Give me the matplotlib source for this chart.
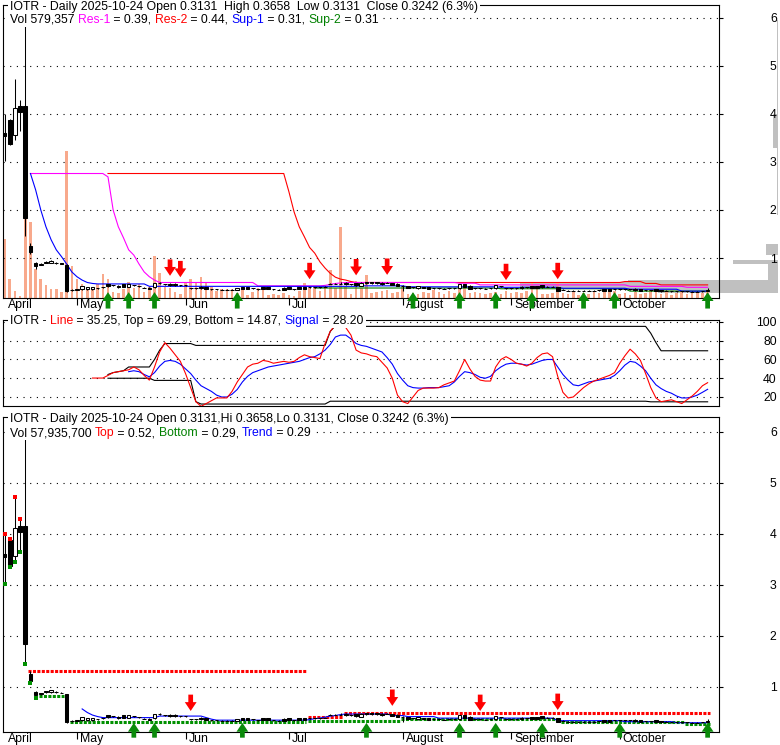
import numpy as np
import pandas as pd
import matplotlib
matplotlib.use('Agg')
import matplotlib.pyplot as plt
from matplotlib.font_manager import FontProperties
from matplotlib.transforms import ScaledTranslation
from matplotlib.patches import Rectangle

plt.rcParams['font.family'] = ['Liberation Sans', 'DejaVu Sans']
FS = 8.8
nan = np.nan

# trading days shown on the chart
holidays = ['2025-04-18', '2025-05-26', '2025-06-19', '2025-07-04', '2025-09-01']
dates = pd.bdate_range('2025-04-10', '2025-10-24')
dates = dates[~dates.isin(pd.to_datetime(holidays))]
x = np.arange(len(dates))
month_names = ['April', 'May', 'Jun', 'Jul', 'August', 'September', 'October']

opens = np.array([
    3.60, 3.88, 3.57, 4.16, 4.16, 1.25, 0.90, 0.86, 0.90, 0.90,
    0.90, 0.89, 0.86, 0.34, 0.34, 0.35, 0.35, 0.35, 0.37, 0.39,
    0.45, 0.43, 0.42, 0.45, 0.40, 0.43, 0.41, 0.38, 0.38, 0.39,
    0.47, 0.45, 0.46, 0.46, 0.43, 0.43, 0.37, 0.37, 0.40, 0.39,
    0.35, 0.35, 0.34, 0.34, 0.34, 0.34, 0.39, 0.39, 0.37, 0.35,
    0.39, 0.39, 0.35, 0.34, 0.38, 0.39, 0.35, 0.39, 0.39, 0.39,
    0.39, 0.39, 0.40, 0.46, 0.46, 0.46, 0.48, 0.45, 0.47, 0.42,
    0.49, 0.49, 0.49, 0.48, 0.48, 0.47, 0.46, 0.41, 0.41, 0.39,
    0.37, 0.39, 0.39, 0.37, 0.37, 0.36, 0.37, 0.37, 0.37, 0.45,
    0.42, 0.37, 0.37, 0.36, 0.37, 0.37, 0.41, 0.37, 0.37, 0.37,
    0.40, 0.39, 0.41, 0.41, 0.43, 0.40, 0.40, 0.39, 0.34, 0.32,
    0.32, 0.32, 0.32, 0.32, 0.32, 0.33, 0.35, 0.35, 0.35, 0.35,
    0.35, 0.35, 0.36, 0.35, 0.33, 0.33, 0.35, 0.33, 0.32, 0.31,
    0.31, 0.31, 0.31, 0.30, 0.30, 0.305, 0.3131])
highs = np.array([
    4.00, 3.90, 4.73, 4.29, 5.85, 1.31, 0.92, 0.89, 0.93, 0.95,
    0.92, 0.90, 0.87, 0.35, 0.36, 0.42, 0.40, 0.40, 0.38, 0.40,
    0.46, 0.44, 0.43, 0.46, 0.46, 0.44, 0.42, 0.39, 0.39, 0.48,
    0.49, 0.46, 0.47, 0.47, 0.44, 0.44, 0.38, 0.38, 0.41, 0.40,
    0.36, 0.36, 0.35, 0.35, 0.35, 0.38, 0.40, 0.40, 0.38, 0.36,
    0.40, 0.40, 0.36, 0.35, 0.39, 0.40, 0.36, 0.40, 0.40, 0.40,
    0.40, 0.40, 0.41, 0.47, 0.47, 0.50, 0.49, 0.46, 0.48, 0.49,
    0.50, 0.50, 0.50, 0.49, 0.49, 0.48, 0.47, 0.43, 0.42, 0.40,
    0.42, 0.40, 0.40, 0.38, 0.38, 0.37, 0.38, 0.38, 0.46, 0.46,
    0.43, 0.38, 0.38, 0.37, 0.38, 0.44, 0.42, 0.38, 0.38, 0.38,
    0.41, 0.40, 0.42, 0.42, 0.44, 0.41, 0.41, 0.40, 0.35, 0.33,
    0.33, 0.33, 0.33, 0.33, 0.33, 0.34, 0.36, 0.36, 0.36, 0.36,
    0.36, 0.36, 0.37, 0.36, 0.34, 0.34, 0.36, 0.34, 0.33, 0.32,
    0.32, 0.32, 0.32, 0.31, 0.31, 0.31, 0.3658])
lows = np.array([
    3.02, 3.35, 3.45, 3.65, 1.45, 1.08, 0.78, 0.85, 0.89, 0.89,
    0.88, 0.88, 0.30, 0.31, 0.33, 0.34, 0.34, 0.34, 0.36, 0.38,
    0.40, 0.42, 0.38, 0.39, 0.39, 0.42, 0.40, 0.37, 0.35, 0.38,
    0.46, 0.44, 0.42, 0.42, 0.42, 0.42, 0.36, 0.36, 0.36, 0.35,
    0.34, 0.34, 0.33, 0.33, 0.33, 0.33, 0.35, 0.35, 0.36, 0.34,
    0.35, 0.35, 0.34, 0.33, 0.34, 0.35, 0.34, 0.35, 0.35, 0.38,
    0.38, 0.38, 0.39, 0.45, 0.45, 0.45, 0.44, 0.44, 0.41, 0.41,
    0.46, 0.46, 0.46, 0.44, 0.47, 0.43, 0.42, 0.31, 0.37, 0.38,
    0.36, 0.37, 0.35, 0.36, 0.36, 0.35, 0.36, 0.36, 0.36, 0.39,
    0.35, 0.36, 0.36, 0.35, 0.36, 0.36, 0.40, 0.36, 0.36, 0.36,
    0.36, 0.38, 0.37, 0.37, 0.38, 0.39, 0.39, 0.31, 0.33, 0.31,
    0.31, 0.31, 0.31, 0.31, 0.31, 0.32, 0.31, 0.31, 0.34, 0.34,
    0.34, 0.34, 0.32, 0.31, 0.32, 0.32, 0.31, 0.30, 0.31, 0.30,
    0.30, 0.30, 0.30, 0.29, 0.29, 0.30, 0.3131])
closes = np.array([
    3.55, 3.37, 4.12, 4.04, 1.84, 1.12, 0.84, 0.88, 0.92, 0.94,
    0.90, 0.88, 0.31, 0.33, 0.35, 0.41, 0.39, 0.39, 0.37, 0.39,
    0.41, 0.43, 0.39, 0.40, 0.45, 0.43, 0.41, 0.38, 0.36, 0.47,
    0.47, 0.45, 0.43, 0.43, 0.43, 0.43, 0.37, 0.37, 0.37, 0.35,
    0.35, 0.35, 0.34, 0.34, 0.34, 0.37, 0.35, 0.35, 0.37, 0.35,
    0.35, 0.35, 0.35, 0.34, 0.34, 0.35, 0.35, 0.35, 0.35, 0.39,
    0.39, 0.39, 0.40, 0.46, 0.46, 0.46, 0.45, 0.45, 0.43, 0.48,
    0.47, 0.47, 0.47, 0.45, 0.48, 0.44, 0.42, 0.41, 0.37, 0.39,
    0.41, 0.37, 0.36, 0.37, 0.37, 0.36, 0.37, 0.37, 0.45, 0.40,
    0.36, 0.37, 0.37, 0.36, 0.37, 0.43, 0.41, 0.37, 0.37, 0.37,
    0.37, 0.39, 0.38, 0.38, 0.39, 0.40, 0.40, 0.32, 0.34, 0.32,
    0.32, 0.32, 0.32, 0.32, 0.32, 0.33, 0.32, 0.32, 0.35, 0.35,
    0.35, 0.35, 0.33, 0.32, 0.33, 0.33, 0.32, 0.31, 0.32, 0.31,
    0.31, 0.31, 0.31, 0.30, 0.30, 0.305, 0.3242])
# daily volume, thousands of shares
volume = np.array([
    4900, 1580, 580, 170, 8300, 6300, 2400, 1580, 1080, 750,
    750, 500, 12200, 2650, 1580, 1160, 750, 910, 1160, 2000,
    1580, 500, 410, 750, 1330, 830, 1160, 500, 910, 3490,
    2080, 910, 830, 500, 330, 1250, 1580, 1250, 1740, 1330,
    910, 580, 750, 750, 750, 410, 750, 250, 500, 830,
    750, 250, 330, 250, 410, 250, 170, 580, 1250, 830,
    910, 580, 830, 2320, 830, 5900, 910, 330, 1410, 830,
    1910, 410, 500, 580, 660, 410, 500, 910, 330, 410,
    330, 500, 410, 660, 500, 330, 580, 410, 1160, 830,
    410, 500, 410, 330, 410, 500, 330, 580, 410, 500,
    410, 580, 1250, 830, 330, 330, 410, 1330, 410, 330,
    500, 250, 410, 330, 500, 410, 580, 660, 580, 330,
    410, 250, 500, 330, 410, 660, 660, 330, 500, 250,
    410, 580, 330, 500, 410, 410, 579])

# resistance / support lines of the upper panel
res1 = np.array([nan] * 5 + [2.76] * 15 +
                [2.69, 2.00, 1.65, 1.42, 1.17, 1.06, 0.875, 0.71, 0.61, 0.54, 0.49] +
                [0.49] * 18 + [0.42] * 13 + [0.43, 0.45, 0.47, 0.48, 0.49, 0.49, 0.49] +
                [0.49] * 19 + [0.475] * 4 + [0.44] * 29 + [0.41] * 11 + [0.39] * 5)
res2 = np.array([nan] * 20 + [2.76] * 35 +
                [2.38, 1.96, 1.65, 1.44, 1.22, 1.10, 0.92, 0.79, 0.68, 0.60, 0.56, 0.54, 0.51] +
                [0.49] * 52 + [0.51] * 4 + [0.47] * 3 + [0.44] * 10)
sup1 = np.array([nan] * 5 +
                [2.76, 2.42, 2.00, 1.65, 1.38, 1.17, 1.03, 0.875, 0.71, 0.61, 0.54, 0.49, 0.47] +
                [0.46] * 10 + [0.41] * 41 + [0.42] * 9 + [0.40] * 18 + [0.39] * 12 +
                [0.37] * 13 + [0.35] * 10 + [0.31] * 6)
sup2 = np.array([nan] * 60 + [0.375] * 36 + [0.36] * 25 + [0.31] * 16)

# volume at price (grey histogram on the right)
vbp_lo = [4.00, 3.30, 1.90, 1.06, 0.88, 0.55, 0.50, 0.44, 0.38, 0.33, 0.27]
vbp_hi = [5.95, 4.00, 3.30, 1.30, 0.95, 0.88, 0.55, 0.50, 0.44, 0.38, 0.33]
vbp_vol = [1.5, 5, 1.5, 12, 45, 10, 150, 258, 258, 178, 120]

# stochastic panel
stoch_line = np.array([nan] * 17 + [
    40.2, 40.2, 40.2, 43, 46, 47, 48, 49, 52, 49,
    43, 38, 52, 68, 78, 72, 65, 58, 45, 30,
    15, 10, 13, 16, 19, 19, 19, 26, 36, 44,
    52, 55, 56, 59, 58, 56, 57, 58, 57, 58,
    62, 65, 63, 62, 61, 77, 90, 97, 97, 94,
    86, 70, 67, 66, 64, 63, 57, 51, 40, 22,
    15, 13, 20, 27, 29.5, 29.5, 29.5, 30, 33, 35,
    37, 48, 60, 50, 42, 38, 37, 37, 52, 60,
    63, 60, 56, 55, 53, 56, 62, 66, 67, 63,
    42, 25, 19, 20, 25, 30, 34, 37, 39, 41,
    43, 46, 56, 64, 71, 66, 59, 45, 30, 19,
    15, 16, 17, 15, 13, 17, 21, 26, 32, 35.25])
stoch_signal = np.array([nan] * 24 + [
    47, 48, 47, 44, 41.5, 46, 53, 58, 59, 58,
    55, 50, 45, 38, 32, 29, 26, 22, 20, 20,
    23, 28, 36, 42, 46, 48, 50, 52, 53, 54,
    55, 56, 57, 58, 60, 62, 63, 66, 70, 76,
    84, 86, 86, 82, 77, 75, 74, 72, 70, 68,
    62, 55, 45, 38, 32, 30, 29.5, 29.5, 30, 30,
    30, 31, 32, 36, 42, 47, 46, 44, 41, 40,
    42, 48, 52, 55, 56, 56, 55, 54, 55, 57,
    59, 60, 60, 52, 44, 38, 33, 32, 34, 36,
    37, 38, 39, 40, 43, 48, 54, 58, 57, 53,
    48, 40, 33, 29, 26, 24, 21, 19, 19, 20,
    22, 25, 28.2])
stoch_top = np.array([nan] * 20 + [44, 46, 47, 48] + [52] * 5 + [60, 70] + [77] * 6 +
                     [75] * 26 + [90, 96] + [95.3] * 60 + [88, 78] + [69.29] * 10)
stoch_bottom = np.array([nan] * 20 + [40] * 9 + [37.7] * 8 + [15] + [12.5] * 25 +
                        [15.5] * 62 + [14.87] * 12)

# lower panel: top / bottom levels and trend
top_lvl = np.array([4.00, 3.90, 4.73, 4.29, nan] + [1.31] * 54 + [0.42] * 7 + [0.49] * 71)
bot_lvl = np.array([3.02, 3.35, 3.45, 3.65, 1.45, 1.08, 0.78] + [0.82] * 5 + [nan] +
                   [0.31] * 46 + [0.33] * 18 + [0.37] * 31 + [0.31] * 24 + [0.27] * 5)
trend = np.array([nan] * 15 + [0.57, 0.50, 0.45, 0.42] + [0.40] * 11 + [0.43] * 9 +
                 [0.40, 0.37, 0.35] + [0.35] * 17 + [0.36, 0.38, 0.39, 0.41, 0.43, 0.44, 0.46] +
                 [0.47] * 9 + [0.44] * 3 + [0.42] * 6 + [0.39] * 23 + [0.34] * 13 +
                 [0.32] * 10 + [0.30] * 7)

sell1 = [32, 34, 59, 68, 74, 97, 107]
buy1 = [20, 24, 29, 45, 79, 88, 95, 102, 112, 118, 136]
sell3 = [36, 75, 92, 107]
buy3 = [25, 29, 46, 70, 88, 95, 104, 119, 136]

month_pos = [int(np.argmax(dates.month == m)) for m in range(4, 11)]

W, H = 780, 745
fig = plt.figure(figsize=(W / 100, H / 100), dpi=100)
fig.patch.set_facecolor('white')
prop = FontProperties(family='Liberation Sans', size=FS)
XLIM = (-0.31, 138.2)
RED, BLUE, MAG, GRN, DGRN = '#ff0000', '#0000ff', '#ff00ff', '#008000', '#0a8a0a'


def rect(l, t, r, b):
    return [l / W, 1 - b / H, (r - l) / W, (b - t) / H]


def frame(ax, yticks, ylim):
    ax.set_xlim(XLIM)
    ax.set_ylim(ylim)
    ax.set_facecolor('none')
    for s in ax.spines.values():
        s.set_linewidth(0.8)
    ax.set_yticks(yticks)
    ax.set_yticklabels([str(t) for t in yticks], fontproperties=prop)
    ax.yaxis.tick_right()
    ax.tick_params(axis='y', direction='out', length=3, width=0.8, pad=38.5)
    for t in ax.get_yticklabels():
        t.set_ha('right')
    ax.grid(True, axis='y', color='black', lw=0.8, ls=(0, (1, 5)))


def months(ax):
    ax.set_xticks(month_pos[1:])
    ax.tick_params(axis='x', direction='out', length=5, width=0.8, labelbottom=False)
    tr = ax.get_xaxis_transform() + ScaledTranslation(3 / 100, -1 / 100, fig.dpi_scale_trans)
    for p, name in zip(month_pos, month_names):
        ax.text(p, 0, name, transform=tr, ha='left', va='top', fontproperties=prop)


def candles(ax):
    up = closes >= opens
    ax.vlines(x, lows, highs, color='black', lw=0.75, zorder=4)
    ax.bar(x, closes - opens, bottom=opens, width=0.7, color=np.where(up, 'white', 'black'),
           edgecolor='black', lw=0.75, zorder=5)


ARW = 'simple,head_length=0.75,head_width=1.0,tail_width=0.4'


def up_arrows(ax, idx, tip, tail):
    tr = ax.get_xaxis_transform()
    for i in idx:
        ax.annotate('', xy=(i, tip), xytext=(i, tail), xycoords=tr, textcoords=tr,
                    arrowprops=dict(arrowstyle=ARW, color=DGRN, mutation_scale=8.5,
                                    shrinkA=0, shrinkB=0, lw=0),
                    annotation_clip=False, zorder=7)


def down_arrows(ax, idx):
    for i in idx:
        ax.annotate('', xy=(i, highs[i]), xytext=(0, 24), textcoords='offset pixels',
                    arrowprops=dict(arrowstyle=ARW, color=RED, mutation_scale=8.5,
                                    shrinkA=0, shrinkB=5.5, lw=0),
                    annotation_clip=False, zorder=7)


def dotted_levels(ax, vals, color):
    i, n = 0, len(vals)
    while i < n:
        if np.isnan(vals[i]):
            i += 1
            continue
        j = i
        while j + 1 < n and vals[j + 1] == vals[i]:
            j += 1
        if j == i:
            ax.plot(i, vals[i], 's', color=color, ms=2.4, mew=0, zorder=6)
        else:
            ax.plot([i - 0.4, j + 0.4], [vals[i]] * 2, color=color, lw=2.2,
                    ls=(0, (1, 0.45)), dash_capstyle='butt', zorder=3)
        i = j + 1


def text_line(x_px, y_px, parts):
    r = fig.canvas.get_renderer()
    full = ''.join(p[0] for p in parts)
    w, h, d = r.get_text_width_height_descent(full, prop, ismath=False)
    # white band behind the line, hiding frame and grid underneath
    fig.add_artist(Rectangle(((x_px - 2) / W, 1 - (y_px + 7) / H), (w + 4) / W, 14 / H,
                             transform=fig.transFigure, fc='white', ec='none', zorder=10))
    bar_w = r.get_text_width_height_descent('|', prop, ismath=False)[0]
    prefix = ''
    for s, c in parts:
        off = 0
        if prefix:
            off = r.get_text_width_height_descent(prefix + '|', prop, ismath=False)[0] - bar_w
        fig.text((x_px + off) / W, 1 - y_px / H, s, color=c, fontproperties=prop,
                 va='center', ha='left', zorder=11)
        prefix += s


# ---- upper panel: price, volume, volume at price ----
YL1 = (0.167, 6.27)
axh = fig.add_axes(rect(3, 5, 778, 298), zorder=1)
axh.barh(vbp_lo, vbp_vol, height=np.array(vbp_hi) - np.array(vbp_lo), align='edge',
         color='#c0c0c0', lw=0)
axh.set_xlim(775, 0)
axh.set_ylim(YL1)
axh.axis('off')

axv = fig.add_axes(rect(3, 5, 719, 298), zorder=2)
axv.bar(x, volume, width=0.5, color='#f8a98c', lw=0)
axv.set_xlim(XLIM)
axv.set_ylim(0, 24300)
axv.axis('off')

ax1 = fig.add_axes(rect(3, 5, 719, 298), zorder=3)
frame(ax1, [1, 2, 3, 4, 5, 6], YL1)
months(ax1)
ax1.plot(x, sup2, color=GRN, lw=0.8, zorder=3)
ax1.plot(x, res2, color=RED, lw=0.8, zorder=3)
ax1.plot(x, res1, color=MAG, lw=0.8, zorder=3)
ax1.plot(x, sup1, color=BLUE, lw=0.8, zorder=3)
candles(ax1)
down_arrows(ax1, sell1)
up_arrows(ax1, buy1, 0.02, -0.036)

# ---- stochastic panel ----
ax2 = fig.add_axes(rect(3, 320, 719, 406), zorder=3)
frame(ax2, [20, 40, 60, 80, 100], (10.4, 102.1))
ax2.set_xticks([])
ax2.plot(x, stoch_top, color='black', lw=0.8)
ax2.plot(x, stoch_bottom, color='black', lw=0.8)
ax2.plot(x, stoch_signal, color=BLUE, lw=0.8)
ax2.plot(x, stoch_line, color=RED, lw=0.8)

# ---- lower panel ----
ax3 = fig.add_axes(rect(3, 417, 719, 732), zorder=3)
frame(ax3, [1, 2, 3, 4, 5, 6], (0.118, 6.29))
months(ax3)
dotted_levels(ax3, top_lvl, RED)
dotted_levels(ax3, bot_lvl, '#009000')
ax3.plot(x, trend, color=BLUE, lw=0.8, zorder=3)
candles(ax3)
down_arrows(ax3, sell3)
up_arrows(ax3, buy3, 0.029, -0.018)

K = 'black'
text_line(10, 7, [('IOTR - Daily 2025-10-24 Open 0.3131  High 0.3658  Low 0.3131  Close 0.3242 (6.3%)', K)])
text_line(10, 20, [('Vol 579,357 ', K), ('Res-1', MAG), (' = 0.39, ', K), ('Res-2', RED),
                   (' = 0.44, ', K), ('Sup-1', BLUE), (' = 0.31, ', K), ('Sup-2', GRN),
                   (' = 0.31', K)])
text_line(10, 321, [('IOTR - ', K), ('Line', RED), (' = 35.25, Top = 69.29, Bottom = 14.87, ', K),
                    ('Signal', BLUE), (' = 28.20', K)])
text_line(10, 419, [('IOTR - Daily 2025-10-24 Open 0.3131,Hi 0.3658,Lo 0.3131, Close 0.3242 (6.3%)', K)])
text_line(10, 433, [('Vol 57,935,700 ', K), ('Top', RED), (' = 0.52, ', K), ('Bottom', GRN),
                    (' = 0.29, ', K), ('Trend', BLUE), (' = 0.29', K)])

fig.savefig('out.png', dpi=100, facecolor='white')
